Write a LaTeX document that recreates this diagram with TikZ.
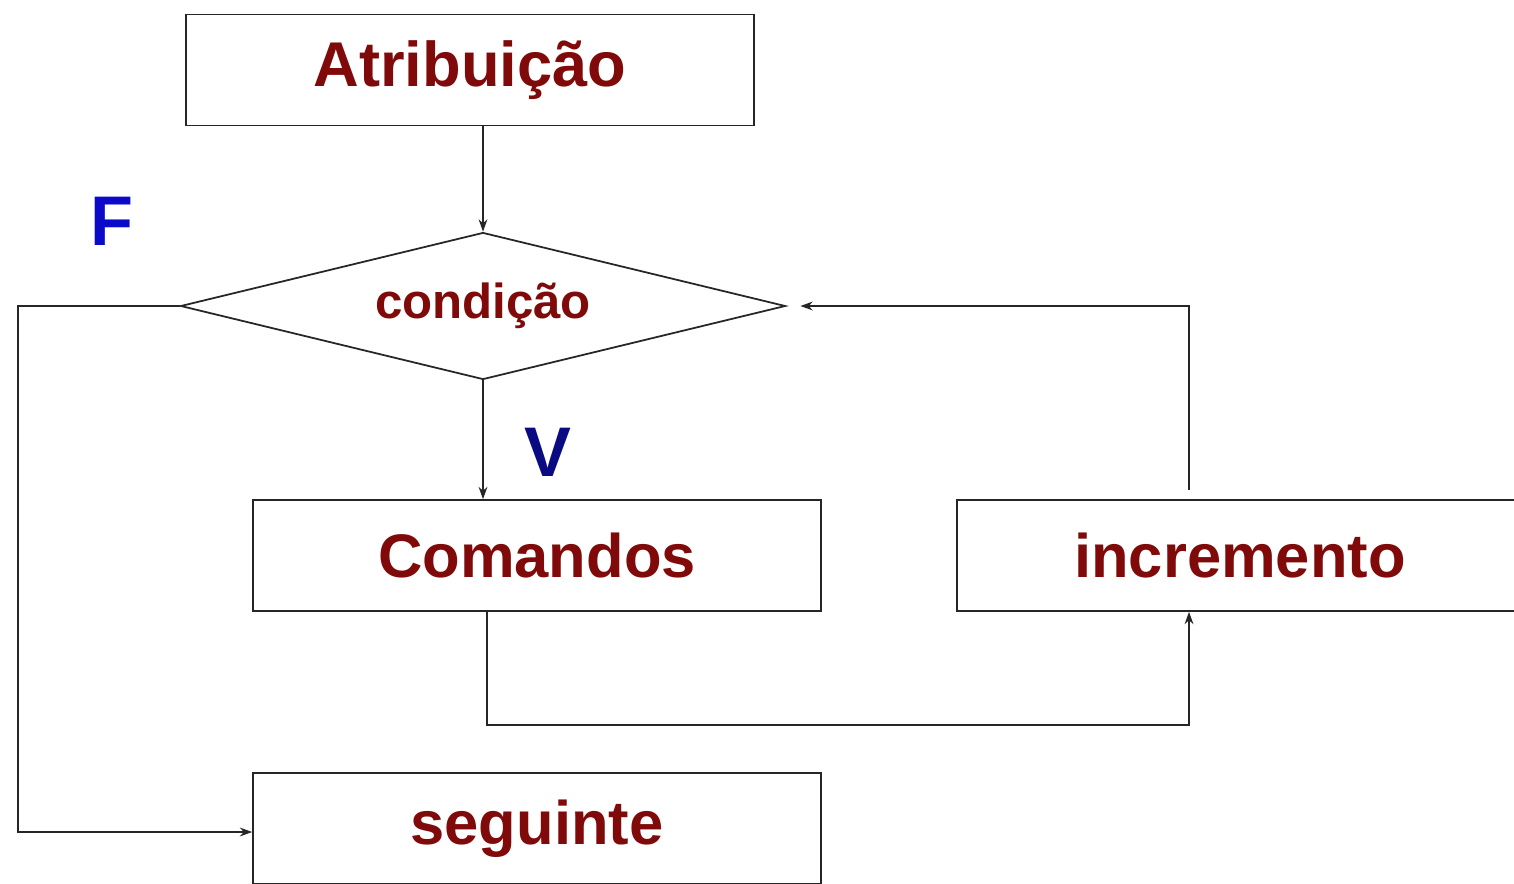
\documentclass[tikz,border=0pt]{standalone}
\usepackage{fontspec}
\setmainfont{Liberation Sans}
\usetikzlibrary{shapes.geometric,arrows.meta,calc}
\definecolor{txtred}{RGB}{128,10,10}
\definecolor{fblue}{RGB}{10,10,200}
\definecolor{vblue}{RGB}{10,10,130}
\begin{document}
\begin{tikzpicture}[x=0.02cm,y=-0.02cm,
  boxnode/.style={draw=black!85,line width=1pt,rectangle,minimum height=2.22cm,inner sep=0pt,
    text=txtred,font=\fontsize{35}{40}\selectfont\bfseries},
  decnode/.style={draw=black!85,line width=1pt,diamond,aspect=4.12,minimum width=12.1cm,minimum height=2.94cm,inner sep=0pt,
    text=txtred,font=\fontsize{28}{32}\selectfont\bfseries},
  arr/.style={draw=black!85,line width=1pt,-{Stealth[length=7pt,width=5pt]}},
  lbl/.style={font=\fontsize{40}{44}\selectfont\bfseries}]
\useasboundingbox (0,0) rectangle (1514,883);
\clip (0,0) rectangle (1514,883);
\fill[white] (0,0) rectangle (1514,883);
\node[boxnode,minimum width=11.36cm,font=\fontsize{36}{40}\selectfont\bfseries] (atr) at (470,70) {Atribuição};
\node[decnode] (cond) at (483,306) {condição};
\node[boxnode,minimum width=11.36cm] (com) at (537,555.5) {Comandos};
\node[boxnode,minimum width=11.32cm] (inc) at (1240,555.5) {incremento};
\node[boxnode,minimum width=11.36cm] (seg) at (537,828.5) {seguinte};
\node[lbl,text=fblue] (F) at (112,221) {F};
\node[lbl,text=vblue] (V) at (548,452) {V};
\coordinate (fcorner) at (18,832);
\coordinate (loopA) at (487,725);
\coordinate (loopB) at (1189,725);
\coordinate (incup) at (1189,490);
\draw[arr] (cond.north |- atr.south) -- (cond.north);
\draw[arr] (cond.west) -| (fcorner) -- (fcorner -| seg.west);
\draw[arr] (cond.south) -- (cond.south |- com.north);
\draw[arr] (loopA |- com.south) -- (loopA) -- (loopB) -- (loopB |- inc.south);
\draw[arr,shorten >=8pt] (incup) -- (incup |- cond.east) -- (cond.east);
\end{tikzpicture}
\end{document}
